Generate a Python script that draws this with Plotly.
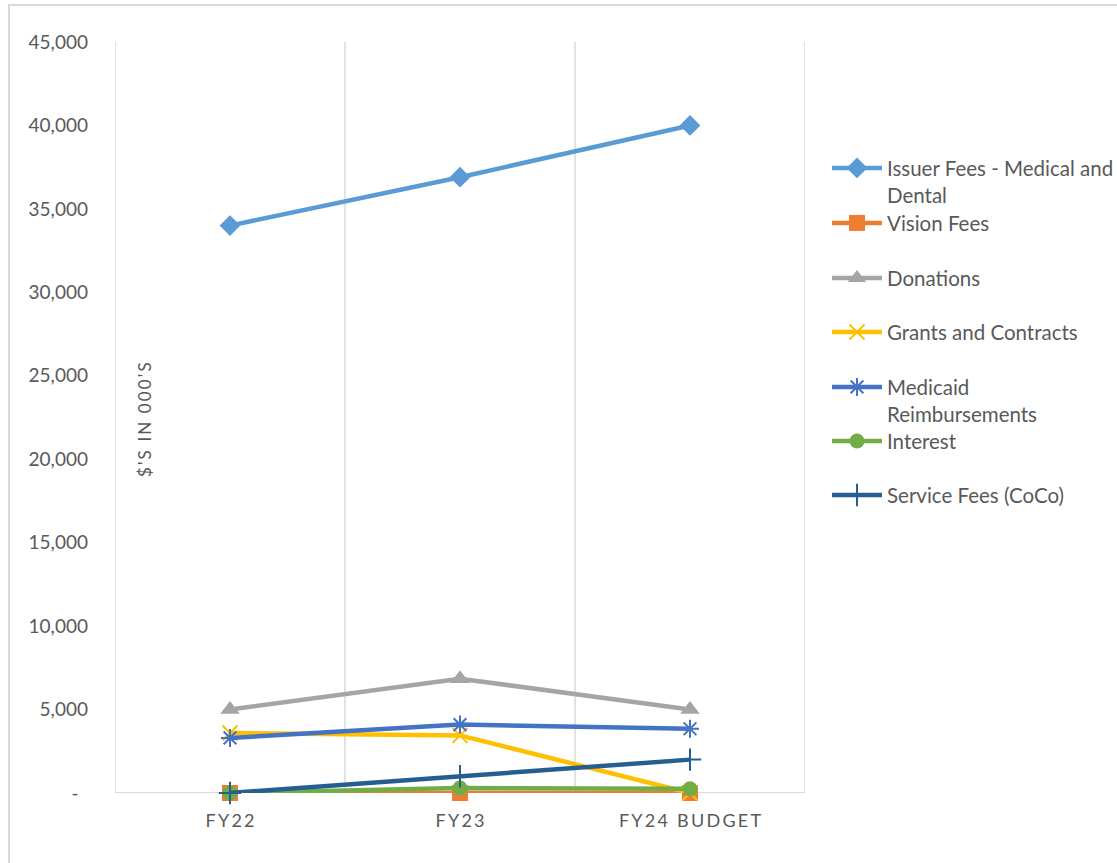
import plotly.graph_objects as go

# Revenue by source, $ in thousands
categories = ["FY22", "FY23", "FY24 BUDGET"]
issuer_fees = [34000, 36900, 40000]
vision_fees = [0, 0, 0]
donations = [5000, 6850, 5000]
grants_contracts = [3600, 3450, 0]
medicaid = [3300, 4100, 3850]
interest = [0, 300, 250]
service_fees = [0, 1000, 2000]

y_tick_values = [0, 5000, 10000, 15000, 20000, 25000, 30000, 35000, 40000, 45000]
# accounting-style zero: a dash padded away from the axis
y_tick_labels = ["-\u2002", "5,000", "10,000", "15,000", "20,000", "25,000",
                 "30,000", "35,000", "40,000", "45,000"]

series = [
    ("Issuer Fees - Medical and<br>Dental", issuer_fees, "#5B9BD5", "diamond", 16),
    ("Vision Fees", vision_fees, "#ED7D31", "square", 16),
    ("Donations", donations, "#A5A5A5", "triangle-up", 17),
    ("Grants and Contracts", grants_contracts, "#FFC000", "x-thin-open", 15),
    ("Medicaid<br>Reimbursements", medicaid, "#4472C4", "asterisk-open", 15),
    ("Interest", interest, "#70AD47", "circle", 15),
    ("Service Fees (CoCo)", service_fees, "#255E91", "cross-thin-open", 16),
]

FONT = "Lato, sans-serif"
TXT = "#595959"
GRID = "#D9D9D9"


def spaced(s, gap="\u2009"):
    """Letter-space a label by putting a thin space between characters."""
    return gap.join(s)


x_idx = list(range(len(categories)))

fig = go.Figure()
legend_names = ["legend", "legend2", "legend3", "legend4", "legend5", "legend6", "legend7"]
for i, (name, vals, color, sym, size) in enumerate(series):
    open_sym = sym.endswith("open")
    fig.add_trace(go.Scatter(
        x=x_idx, y=vals, name=name, mode="lines+markers",
        line=dict(color=color, width=4.5),
        marker=dict(symbol=sym, size=size, color=color,
                    line=dict(color=color, width=2 if open_sym else 0)),
        cliponaxis=False,
        legend=legend_names[i],
    ))

# vertical gridlines at category boundaries
shapes = []
for b in [-0.5, 0.5, 1.5, 2.5]:
    shapes.append(dict(type="line", xref="x", yref="paper", x0=b, x1=b, y0=0, y1=1,
                       line=dict(color=GRID, width=1.5), layer="below"))
# baseline
shapes.append(dict(type="line", xref="paper", yref="y", x0=0, x1=1, y0=0, y1=0,
                   line=dict(color=GRID, width=2), layer="below"))
# chart border
shapes.append(dict(type="rect", xref="paper", yref="paper",
                   x0=-0.1536, x1=1.47, y0=-0.12, y1=1.0493,
                   line=dict(color=GRID, width=2), layer="below"))

legend_y_px = [168, 223, 278, 332, 387, 441, 495]
plot_top, plot_bottom = 42, 793
layout_legends = {}
for name, ypx in zip(legend_names, legend_y_px):
    yp = (plot_bottom - ypx) / (plot_bottom - plot_top)
    layout_legends[name] = dict(
        x=(827 - 115) / 690, xanchor="left", y=yp + 0.0145 + 9 / 751, yanchor="top",
        font=dict(family=FONT, size=20.5, color=TXT),
        bgcolor="rgba(0,0,0,0)", borderwidth=0, valign="top",
        itemwidth=50, tracegroupgap=0,
    )

fig.update_layout(
    width=1117, height=863,
    margin=dict(l=115, r=312, t=42, b=70, autoexpand=False),
    paper_bgcolor="white", plot_bgcolor="white",
    showlegend=True,
    shapes=shapes,
    xaxis=dict(
        range=[-0.5, 2.5], tickvals=x_idx, ticktext=[spaced(c) for c in categories],
        showgrid=False, zeroline=False, showline=False, ticks="",
        tickfont=dict(family=FONT, size=18, color=TXT), ticklabelstandoff=15,
    ),
    yaxis=dict(
        range=[0, 45000], tickvals=y_tick_values, ticktext=y_tick_labels,
        showgrid=False, zeroline=False, showline=False, ticks="",
        tickfont=dict(family=FONT, size=19, color=TXT), ticklabelstandoff=26,
    ),
    annotations=[dict(
        text=spaced("$'S IN 000'S"), textangle=-90, xref="paper", yref="paper",
        x=(144 - 115) / 690, y=(793 - 420) / 751, xanchor="center", yanchor="middle",
        showarrow=False,
        font=dict(family=FONT, size=17, color=TXT),
    )],
    **layout_legends,
)

fig.write_html("out.html")
